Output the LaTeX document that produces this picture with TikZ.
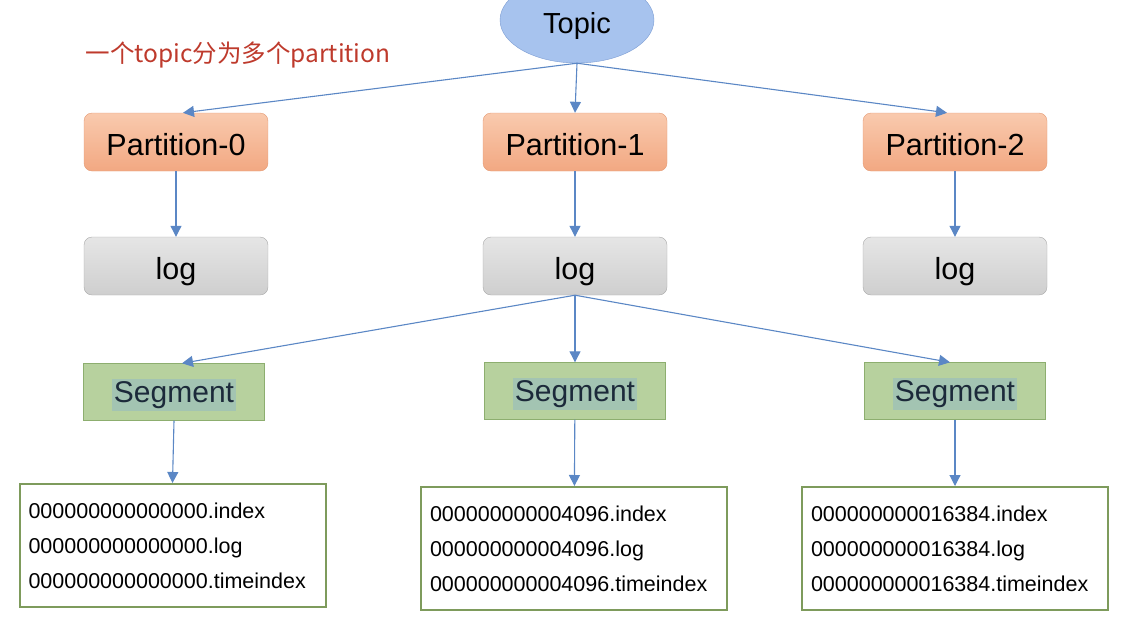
\documentclass[tikz,border=0pt]{standalone}
\usepackage{fontspec}
\setmainfont{Liberation Sans}
\newfontfamily\cjk{Noto Sans CJK SC}
\usetikzlibrary{arrows.meta,shapes.geometric,positioning}

\definecolor{topicfill}{HTML}{A7C3EE}
\definecolor{topicline}{HTML}{7C9DD3}
\definecolor{parttop}{HTML}{F9CAAE}
\definecolor{partbot}{HTML}{F2A882}
\definecolor{partline}{HTML}{E49A74}
\definecolor{logline}{HTML}{A9A9A9}
\definecolor{segfill}{HTML}{B7D19E}
\definecolor{segline}{HTML}{8DAE6F}
\definecolor{seghl}{HTML}{A3C4B2}
\definecolor{segtext}{HTML}{1C2A3A}
\definecolor{fileline}{HTML}{7E9B5C}
\definecolor{arrowblue}{HTML}{5B87C5}
\definecolor{notered}{HTML}{BE3A2C}

\begin{document}
\begin{tikzpicture}[x=1pt, y=-1pt,
    topicnode/.style={ellipse, draw=topicline, fill=topicfill, minimum width=154pt, minimum height=86pt, text height=26pt, text depth=0pt, font=\fontsize{29}{32}\selectfont},
    part/.style={draw=partline, rounded corners=8pt, top color=parttop, bottom color=partbot, minimum width=184pt, minimum height=58pt, text height=27pt, text depth=0pt, font=\fontsize{30.5}{34}\selectfont},
    lognode/.style={draw=logline, rounded corners=8pt, top color=black!10, bottom color=black!19, minimum width=184pt, minimum height=58pt, text height=27pt, text depth=0pt, font=\fontsize{30.5}{34}\selectfont},
    seg/.style={draw=segline, fill=segfill, minimum width=181pt, minimum height=57pt},
    seglabel/.style={fill=seghl, text=segtext, inner sep=2pt, font=\fontsize{30}{34}\selectfont},
    files/.style={draw=fileline, line width=2pt, fill=white, text width=288pt, inner sep=9pt, minimum height=123pt, align=left, font=\fontsize{21.5}{35}\selectfont},
    arr/.style={-{Triangle[length=11pt,width=11pt]}, draw=arrowblue, line width=1.1pt}
]
\useasboundingbox (0,0) rectangle (1130,638);
\clip (0,0) rectangle (1130,638);

% topic
\node[topicnode] (topic) at (577,20) {Topic};
\node[font=\cjk\fontsize{24.5}{30}\selectfont, text=notered] (note) at (238,55) {一个topic分为多个partition};

% partitions
\node[part] (p0) at (176,142) {Partition-0};
\node[part] (p1) at (575,142) {Partition-1};
\node[part] (p2) at (955,142) {Partition-2};

% logs
\node[lognode] (l0) at (176,266) {log};
\node[lognode] (l1) at (575,266) {log};
\node[lognode] (l2) at (955,266) {log};

% segments
\node[seg] (s0) at (174,392) {};
\node[seg] (s1) at (575,391) {};
\node[seg] (s2) at (955,391) {};
\node[seglabel] (s0t) at ([yshift=-3pt]s0) {Segment};
\node[seglabel] (s1t) at ([yshift=-3pt]s1) {Segment};
\node[seglabel] (s2t) at ([yshift=-3pt]s2) {Segment};

% files
\node[files] (f0) at (172.5,545.5) {000000000000000.index\\000000000000000.log\\000000000000000.timeindex};
\node[files] (f1) at (574,548.5) {000000000004096.index\\000000000004096.log\\000000000004096.timeindex};
\node[files] (f2) at (955,548.5) {000000000016384.index\\000000000016384.log\\000000000016384.timeindex};

\draw[arr] (topic.south) -- ([xshift=7pt]p0.north);
\draw[arr] (topic.south) -- (p1.north);
\draw[arr] (topic.south) -- ([xshift=-8pt]p2.north);

\foreach \i in {0,1,2}
  \draw[arr] (p\i) -- (l\i);

\draw[arr] (l1.south) -- ([xshift=8pt]s0.north);
\draw[arr] (l1.south) -- (s1.north);
\draw[arr] (l1.south) -- ([xshift=-5pt]s2.north);

\draw[arr] (s0.south) -- (f0.north);
\draw[arr] (s1) -- (f1);
\draw[arr] (s2) -- (f2);
\end{tikzpicture}
\end{document}
